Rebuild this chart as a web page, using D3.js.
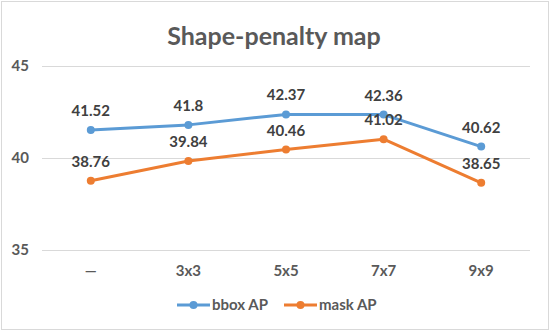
<!DOCTYPE html>
<html>
<head>
<meta charset="utf-8">
<script src="https://cdn.jsdelivr.net/npm/d3@7"></script>
<style>
  body { margin: 0; background: #fff; }
  svg { display: block; font-family: Lato, "Open Sans", sans-serif; }
</style>
</head>
<body>
<svg id="chart" width="550" height="331"></svg>
<script>
// chart data
const categories = ['—', '3x3', '5x5', '7x7', '9x9'];
const bboxAP = [41.52, 41.8, 42.37, 42.36, 40.62];
const maskAP = [38.76, 39.84, 40.46, 41.02, 38.65];
const yTicks = [35, 40, 45];

const series = [
    { name: 'bbox AP', values: bboxAP, color: '#5b9bd5' },
    { name: 'mask AP', values: maskAP, color: '#ed7d31' }
];

const svg = d3.select('#chart');
const width = 550, height = 331;
const margin = { top: 66, right: 20, bottom: 81, left: 42 };

// outer frame
svg.append('rect')
    .attr('x', 1.5).attr('y', 1.5)
    .attr('width', width - 3).attr('height', height - 3)
    .attr('fill', '#fff').attr('stroke', '#d9d9d9');

svg.append('text')
    .attr('x', width / 2 - 1).attr('y', 45)
    .attr('text-anchor', 'middle')
    .attr('font-size', 25).attr('font-weight', 'bold')
    .attr('fill', '#595959')
    .text('Shape-penalty map');

const x = d3.scaleBand().domain(categories)
    .range([margin.left, width - margin.right]);
const y = d3.scaleLinear().domain([35, 45])
    .range([height - margin.bottom, margin.top]);

// grid lines + y labels
const yAxis = svg.append('g')
    .attr('transform', `translate(${margin.left},0)`)
    .call(d3.axisLeft(y).tickValues(yTicks).tickSize(-(width - margin.left - margin.right)).tickPadding(13));
yAxis.select('.domain').remove();
yAxis.selectAll('line').attr('stroke', '#d9d9d9');
yAxis.selectAll('text').attr('font-size', 15).attr('font-weight', 'bold')
    .attr('fill', '#595959').attr('font-family', 'Lato, sans-serif');

const xAxis = svg.append('g')
    .attr('transform', `translate(0,${height - margin.bottom})`)
    .call(d3.axisBottom(x).tickSize(0).tickPadding(15));
xAxis.select('.domain').remove();
xAxis.selectAll('text').attr('font-size', 15).attr('font-weight', 'bold')
    .attr('fill', '#595959').attr('font-family', 'Lato, sans-serif');

const cx = (d, i) => x(categories[i]) + x.bandwidth() / 2;

const line = d3.line()
    .x(cx)
    .y(d => y(d));

series.forEach(s => {
    const g = svg.append('g');
    g.append('path')
        .datum(s.values)
        .attr('fill', 'none')
        .attr('stroke', s.color)
        .attr('stroke-width', 3)
        .attr('stroke-linejoin', 'round')
        .attr('d', line);
    g.selectAll('circle').data(s.values).enter().append('circle')
        .attr('cx', cx).attr('cy', d => y(d)).attr('r', 4)
        .attr('fill', s.color);
});

// data labels drawn after lines so they stay on top
series.forEach(s => {
    svg.append('g').selectAll('text').data(s.values).enter().append('text')
        .attr('x', cx).attr('y', d => y(d) - 14)
        .attr('text-anchor', 'middle')
        .attr('font-size', 15).attr('font-weight', 'bold')
        .attr('fill', '#404040')
        .text(d => d);
});

// legend
const legend = svg.append('g').attr('transform', 'translate(0,305)');
const legendX = [177, 284];
series.forEach((s, i) => {
    const lg = legend.append('g').attr('transform', `translate(${legendX[i]},0)`);
    lg.append('line').attr('x1', 0).attr('x2', 33)
        .attr('stroke', s.color).attr('stroke-width', 3);
    lg.append('circle').attr('cx', 16.5).attr('r', 4).attr('fill', s.color);
    lg.append('text').attr('x', 35).attr('y', 5)
        .attr('font-size', 15).attr('font-weight', 'bold')
        .attr('fill', '#595959')
        .text(s.name);
});
</script>
</body>
</html>
